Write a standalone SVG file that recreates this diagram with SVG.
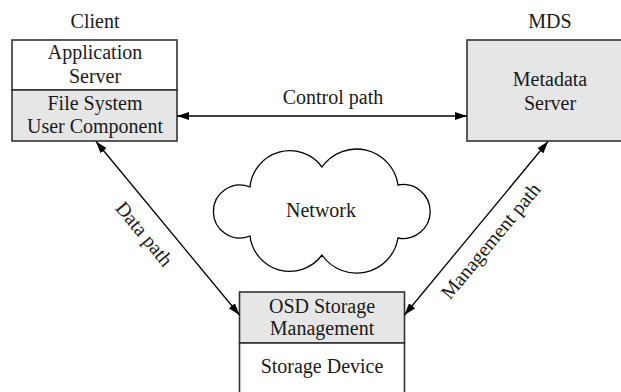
<svg xmlns="http://www.w3.org/2000/svg" width="621" height="392" viewBox="0 0 621 392">
  <style>
    text { font-family: "Liberation Serif", "Times New Roman", serif; font-size: 20px; fill: #1a1a1a; text-anchor: middle; }
    .box { stroke: #333; stroke-width: 1.6; }
    .white { fill: #ffffff; }
    .gray { fill: #e6e6e6; }
    .conn { stroke: #000; stroke-width: 1.3; fill: none; marker-start: url(#arr); marker-end: url(#arr); }
    .cloud { fill: #fff; stroke: #000; stroke-width: 1.3; }
  </style>
  <defs>
    <marker id="arr" viewBox="0 0 12 8" refX="12" refY="4" markerWidth="12" markerHeight="8" markerUnits="userSpaceOnUse" orient="auto-start-reverse">
      <path d="M0,0 L12,4 L0,8 Z" fill="#000"/>
    </marker>
  </defs>
  <rect width="621" height="392" fill="#fff"/>

  <g id="client">
    <text x="95" y="28">Client</text>
    <rect class="box white" x="12" y="40" width="165" height="50"/>
    <rect class="box gray" x="12" y="90" width="165" height="51"/>
    <text x="95" y="59">Application</text>
    <text x="95" y="83">Server</text>
    <text x="95" y="110">File System</text>
    <text x="95" y="133">User Component</text>
  </g>

  <g id="mds">
    <text x="550" y="28">MDS</text>
    <rect class="box gray" x="467" y="40" width="165" height="101"/>
    <text x="550" y="86">Metadata</text>
    <text x="550" y="110">Server</text>
  </g>

  <g id="osd">
    <rect class="box gray" x="239.5" y="292" width="165" height="51"/>
    <rect class="box white" x="239.5" y="343" width="165" height="52"/>
    <text x="322" y="313">OSD Storage</text>
    <text x="322" y="335">Management</text>
    <text x="322" y="373">Storage Device</text>
  </g>

  <g id="network">
    <path class="cloud" d="M250,187 A40,40 0 0 1 322,167 A42,42 0 0 1 398,185 A27,27 0 1 1 398,238 A42,42 0 0 1 322,255 A40,40 0 0 1 250,236 A26.5,26.5 0 1 1 250,187 Z"/>
    <text x="321" y="217">Network</text>
  </g>

  <g id="connectors">
    <line class="conn" x1="177" y1="116" x2="467" y2="116"/>
    <line class="conn" x1="96" y1="141.5" x2="239.5" y2="315"/>
    <line class="conn" x1="548" y1="141.5" x2="404.5" y2="315"/>
    <text x="333" y="104">Control path</text>
    <text transform="translate(143,235) rotate(50.4)" x="0" y="5">Data path</text>
    <text transform="translate(492,242) rotate(-50.4)" x="0" y="5">Management path</text>
  </g>
</svg>
